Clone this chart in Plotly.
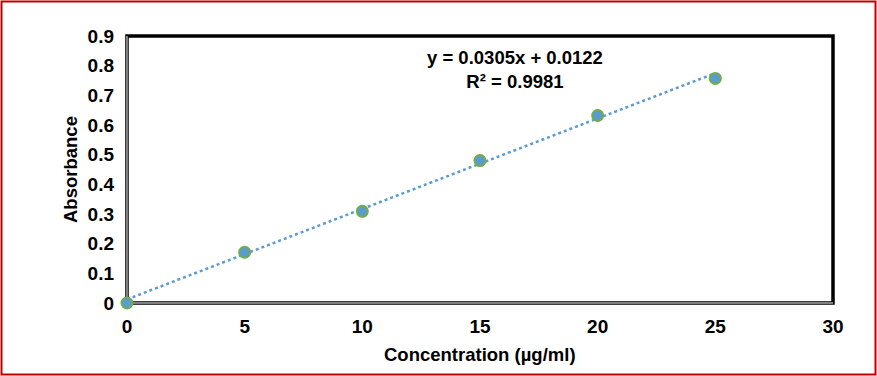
import plotly.graph_objects as go

concentration = [0, 5, 10, 15, 20, 25]
absorbance = [0.0, 0.171, 0.309, 0.480, 0.632, 0.757]
slope = 0.0305
intercept = 0.0122
x_ticks = [0, 5, 10, 15, 20, 25, 30]
y_ticks = [0, 0.1, 0.2, 0.3, 0.4, 0.5, 0.6, 0.7, 0.8, 0.9]

W, H = 877, 376
L, R, T, B = 127, 44, 36, 73
pw, ph = W - L - R, H - T - B

trend_x = [concentration[0], concentration[-1]]
trend_y = [slope * v + intercept for v in trend_x]

fig = go.Figure()
fig.add_trace(go.Scatter(x=trend_x, y=trend_y, mode="lines", cliponaxis=False,
                         line=dict(color="#5B9BD5", width=2.5, dash="dot"), hoverinfo="skip"))
fig.add_trace(go.Scatter(x=concentration, y=absorbance, mode="markers", cliponaxis=False,
                         marker=dict(color="#5B9BD5", size=11, line=dict(color="#70AD47", width=2))))

font = dict(family="Liberation Sans, Arial, sans-serif", color="black", size=20)

def px_x(p):
    return (p - L) / pw

def px_y(p):
    return (H - B - p) / ph

fig.update_layout(
    width=W, height=H,
    margin=dict(l=L, r=R, t=T, b=B),
    plot_bgcolor="white", paper_bgcolor="white",
    showlegend=False,
    font=font,
    xaxis=dict(range=[0, 30], tickvals=x_ticks, ticktext=[f"<b>{v}</b>" for v in x_ticks],
               showgrid=False, zeroline=False, showline=False, ticks="", ticklen=0,
               automargin=False, ticklabelstandoff=10, tickfont=dict(size=19)),
    yaxis=dict(range=[0, 0.9], tickvals=y_ticks,
               ticktext=["<b>0</b>"] + [f"<b>{v:.1f}</b>" for v in y_ticks[1:]],
               showgrid=False, zeroline=False, showline=False, ticks="", ticklen=0,
               automargin=False, ticklabelstandoff=12, tickfont=dict(size=19)),
    shapes=[
        dict(type="rect", xref="paper", yref="paper", x0=0, y0=0, x1=1, y1=1,
             line=dict(color="black", width=3.5), layer="below"),
        dict(type="line", xref="paper", yref="paper", x0=0, x1=0, y0=0, y1=1,
             line=dict(color="white", width=1), layer="below"),
        dict(type="line", xref="paper", yref="paper", x0=0, x1=1, y0=0, y1=0,
             line=dict(color="white", width=1), layer="below"),
        dict(type="rect", xref="paper", yref="paper",
             x0=px_x(1.5), x1=px_x(875.5), y0=px_y(374.5), y1=px_y(1.5),
             line=dict(color="#C00000", width=2)),
    ],
    annotations=[
        dict(xref="paper", yref="paper", x=px_x(515), y=px_y(69), yanchor="middle",
             text="<b>y = 0.0305x + 0.0122</b><br><b>R² = 0.9981</b>",
             showarrow=False, font=dict(size=18.5), align="center"),
        dict(xref="paper", yref="paper", x=px_x(480), y=px_y(354), yanchor="middle",
             text="<b>Concentration (µg/ml)</b>", showarrow=False, font=dict(size=18.5)),
        dict(xref="paper", yref="paper", x=px_x(70), y=px_y(170), xanchor="center",
             yanchor="middle", textangle=-90,
             text="<b>Absorbance</b>", showarrow=False, font=dict(size=18.5)),
    ],
)

fig.write_html("out.html", config={"displayModeBar": False},
               post_script="document.body.style.margin='0';document.body.style.overflow='hidden';")
